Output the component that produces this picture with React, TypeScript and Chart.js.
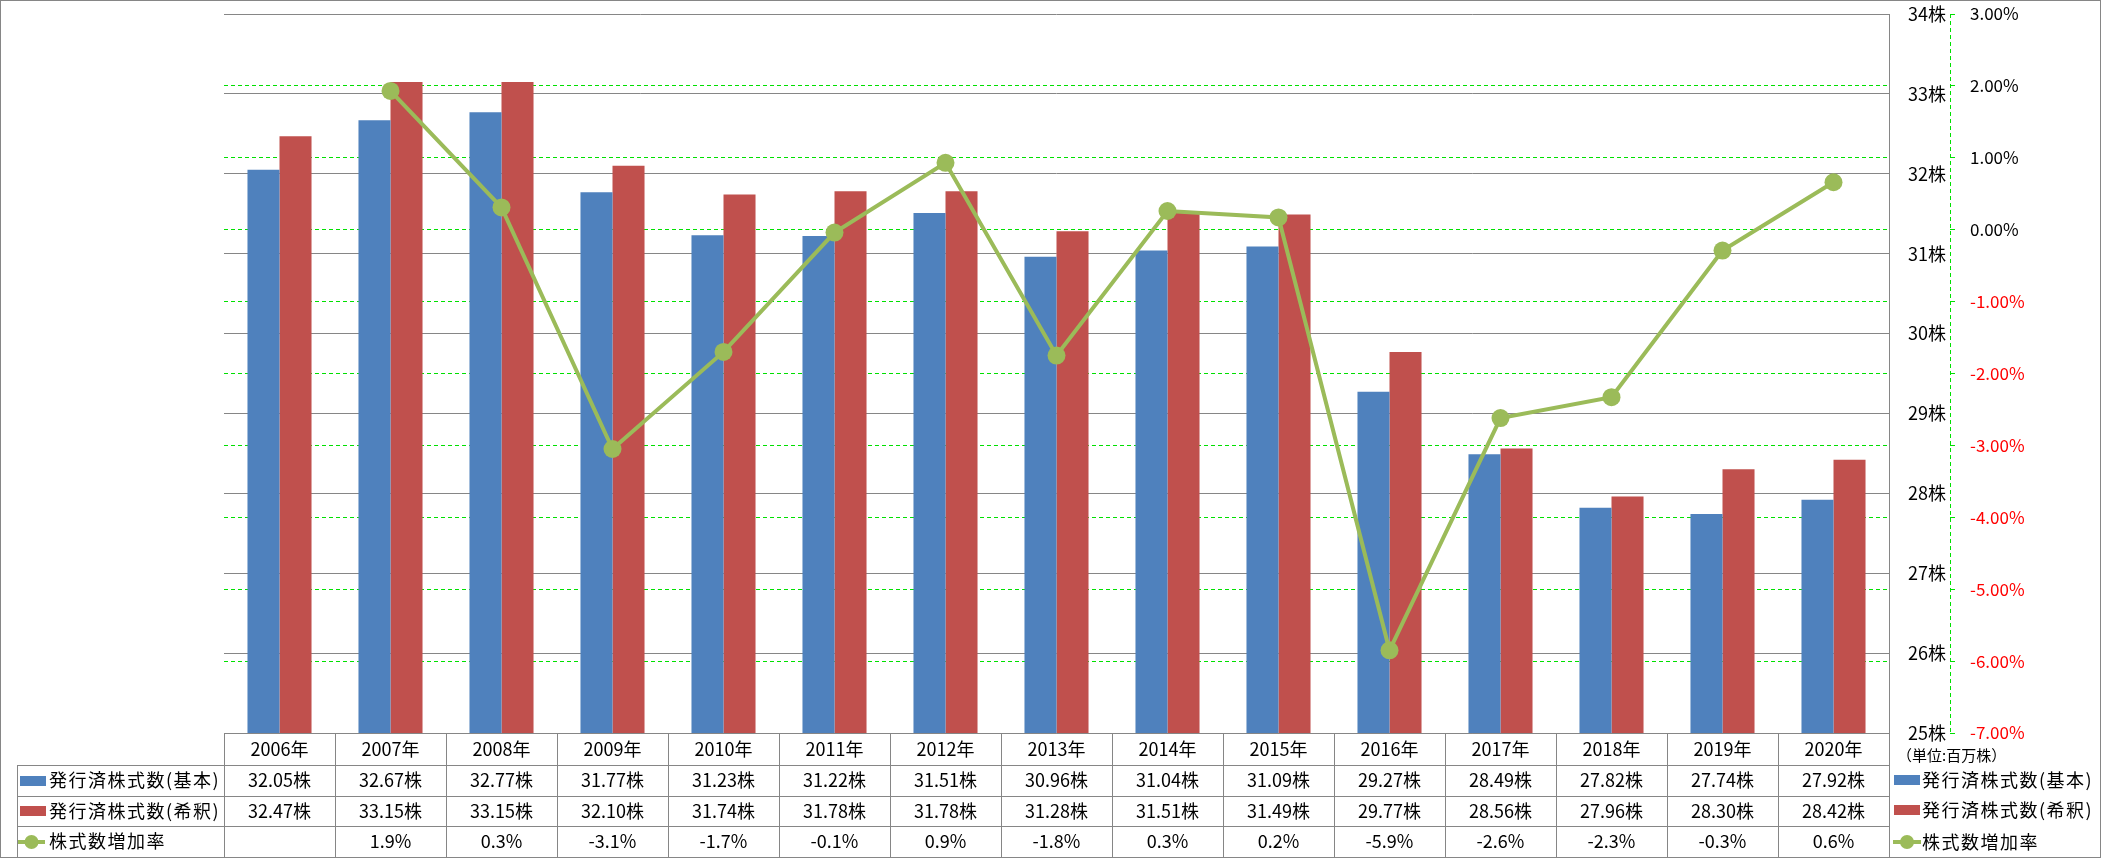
import React, { useEffect, useRef } from 'react';
import { Chart, registerables } from 'chart.js';

Chart.register(...registerables);

const years = ['2006年', '2007年', '2008年', '2009年', '2010年', '2011年', '2012年', '2013年', '2014年', '2015年', '2016年', '2017年', '2018年', '2019年', '2020年'];
const basicShares = [32.05, 32.67, 32.77, 31.77, 31.23, 31.22, 31.51, 30.96, 31.04, 31.09, 29.27, 28.49, 27.82, 27.74, 27.92];
const dilutedShares = [32.47, 33.15, 33.15, 32.10, 31.74, 31.78, 31.78, 31.28, 31.51, 31.49, 29.77, 28.56, 27.96, 28.30, 28.42];
const growthRate: (number | null)[] = [null, 1.93, 0.31, -3.05, -1.70, -0.04, 0.93, -1.75, 0.26, 0.17, -5.85, -2.62, -2.33, -0.29, 0.66];
const growthLabels = ['', '1.9%', '0.3%', '-3.1%', '-1.7%', '-0.1%', '0.9%', '-1.8%', '0.3%', '0.2%', '-5.9%', '-2.6%', '-2.3%', '-0.3%', '0.6%'];
const seriesNames = ['発行済株式数(基本)', '発行済株式数(希釈)', '株式数増加率'];
const unitLabel = '（単位:百万株）';
const shareUnit = '株';

const FONT = '"Noto Sans CJK JP", "Noto Sans", sans-serif';
const BLUE = '#4F81BD';
const RED = '#C0504D';
const GREEN_LINE = '#9BBB59';
const GRID_GREEN = '#00E000';
const GRAY = '#868686';
const W = 2101;
const H = 858;

function drawLineSymbol(ctx: CanvasRenderingContext2D, x1: number, x2: number, y: number) {
  ctx.save();
  ctx.strokeStyle = GREEN_LINE;
  ctx.lineWidth = 4;
  ctx.beginPath();
  ctx.moveTo(x1, y);
  ctx.lineTo(x2, y);
  ctx.stroke();
  ctx.fillStyle = GREEN_LINE;
  ctx.beginPath();
  ctx.arc((x1 + x2) / 2, y, 7, 0, Math.PI * 2);
  ctx.fill();
  ctx.restore();
}

function fillSpaced(ctx: CanvasRenderingContext2D, text: string, x: number, y: number, spacing: string) {
  const c = ctx as any;
  const prev = c.letterSpacing;
  c.letterSpacing = spacing;
  ctx.fillText(text, x, y);
  c.letterSpacing = prev || '0px';
}

const tablePlugin = {
  id: 'dataTable',
  afterDraw(chart: any) {
    const ctx: CanvasRenderingContext2D = chart.ctx;
    const xs = chart.scales.x;
    const y1 = chart.scales.y1;
    const area = chart.chartArea;
    const n = years.length;
    const centers = years.map((_, i) => xs.getPixelForValue(i));
    const half = (centers[1] - centers[0]) / 2;
    const edges = [centers[0] - half, ...centers.map((c) => c + half)];
    const top = Math.round(area.bottom);
    const rows = [top, top + 32, top + 63, top + 93, top + 124];
    const labelLeft = 17;
    const right = Math.round(edges[n]);

    ctx.save();
    // green dashed secondary axis line
    ctx.strokeStyle = GRID_GREEN;
    ctx.lineWidth = 1;
    ctx.setLineDash([4, 3]);
    ctx.beginPath();
    ctx.moveTo(Math.round(y1.left) + 0.5, y1.top);
    ctx.lineTo(Math.round(y1.left) + 0.5, y1.bottom);
    ctx.stroke();
    ctx.setLineDash([]);

    // table lines
    ctx.strokeStyle = GRAY;
    ctx.lineWidth = 1;
    ctx.beginPath();
    ctx.moveTo(Math.round(edges[0]), rows[0] + 0.5);
    ctx.lineTo(right, rows[0] + 0.5);
    for (let r = 1; r < rows.length; r++) {
      ctx.moveTo(labelLeft, rows[r] + 0.5);
      ctx.lineTo(right, rows[r] + 0.5);
    }
    for (let i = 0; i <= n; i++) {
      const x = Math.round(edges[i]) + 0.5;
      ctx.moveTo(x, rows[0]);
      ctx.lineTo(x, rows[4]);
    }
    ctx.moveTo(labelLeft + 0.5, rows[1]);
    ctx.lineTo(labelLeft + 0.5, rows[4]);
    ctx.stroke();

    // texts
    ctx.fillStyle = '#000';
    ctx.font = `18px ${FONT}`;
    ctx.textBaseline = 'middle';
    ctx.textAlign = 'center';
    const mid = (r: number) => (rows[r] + rows[r + 1]) / 2;
    for (let i = 0; i < n; i++) {
      ctx.fillText(years[i], centers[i], mid(0));
      ctx.fillText(basicShares[i].toFixed(2) + shareUnit, centers[i], mid(1));
      ctx.fillText(dilutedShares[i].toFixed(2) + shareUnit, centers[i], mid(2));
      ctx.fillText(growthLabels[i], centers[i], mid(3));
    }

    // row legend keys
    ctx.textAlign = 'left';
    ctx.fillStyle = BLUE;
    ctx.fillRect(20, Math.round(mid(1)) - 5, 26, 10);
    ctx.fillStyle = RED;
    ctx.fillRect(20, Math.round(mid(2)) - 5, 26, 10);
    drawLineSymbol(ctx, 18, 45, Math.round(mid(3)));
    ctx.fillStyle = '#000';
    fillSpaced(ctx, seriesNames[0], 49, mid(1), '1.5px');
    fillSpaced(ctx, seriesNames[1], 49, mid(2), '1.5px');
    fillSpaced(ctx, seriesNames[2], 49, mid(3), '1.5px');

    // right legend
    ctx.font = `15px ${FONT}`;
    ctx.fillText(unitLabel, 1897, 755);
    ctx.font = `18px ${FONT}`;
    ctx.fillStyle = BLUE;
    ctx.fillRect(1894, 775, 26, 10);
    ctx.fillStyle = RED;
    ctx.fillRect(1894, 805, 26, 10);
    drawLineSymbol(ctx, 1893, 1921, 842);
    ctx.fillStyle = '#000';
    fillSpaced(ctx, seriesNames[0], 1922, 780, '1.5px');
    fillSpaced(ctx, seriesNames[1], 1922, 810, '1.5px');
    fillSpaced(ctx, seriesNames[2], 1922, 842, '1.5px');

    // outer border
    ctx.strokeStyle = GRAY;
    ctx.strokeRect(0.5, 0.5, W - 1, H - 1);
    ctx.restore();
  },
};

export default function App() {
  const canvasRef = useRef<HTMLCanvasElement | null>(null);

  useEffect(() => {
    const canvas = canvasRef.current;
    if (!canvas) return;
    const chart = new Chart(canvas, {
      type: 'bar',
      data: {
        labels: years,
        datasets: [
          {
            type: 'line',
            label: seriesNames[2],
            data: growthRate,
            yAxisID: 'y1',
            borderColor: GREEN_LINE,
            backgroundColor: GREEN_LINE,
            borderWidth: 4,
            pointRadius: 9,
            pointBackgroundColor: GREEN_LINE,
            pointBorderWidth: 0,
            tension: 0,
            order: 0,
          } as any,
          {
            label: seriesNames[0],
            data: basicShares,
            yAxisID: 'y',
            backgroundColor: BLUE,
            borderWidth: 0,
            barPercentage: 1,
            categoryPercentage: 0.577,
            order: 1,
          },
          {
            label: seriesNames[1],
            data: dilutedShares,
            yAxisID: 'y',
            backgroundColor: RED,
            borderWidth: 0,
            barPercentage: 1,
            categoryPercentage: 0.577,
            order: 1,
          },
        ],
      },
      options: {
        responsive: false,
        animation: false,
        devicePixelRatio: 1,
        layout: { padding: { left: 224, top: 14, bottom: 125, right: 0 } },
        plugins: { legend: { display: false }, tooltip: { enabled: false } },
        scales: {
          x: { display: false, offset: true, grid: { display: false } },
          y: {
            position: 'right',
            min: 25,
            max: 34,
            ticks: {
              stepSize: 1,
              callback: (v: any) => v + shareUnit,
              color: '#000',
              font: { family: FONT, size: 18 },
              padding: 19,
              crossAlign: 'near',
            },
            grid: { color: GRAY, lineWidth: 1, drawTicks: false },
            border: { display: true, color: GRAY, width: 1 },
            afterFit: (s: any) => {
              s.width = 61;
              s.paddingTop = 0;
              s.paddingBottom = 0;
            },
          },
          y1: {
            position: 'right',
            min: -7,
            max: 3,
            ticks: {
              stepSize: 1,
              callback: (v: any) => Number(v).toFixed(2) + '%',
              color: (c: any) => (c.tick && c.tick.value < 0 ? '#FF0000' : '#000'),
              font: { family: FONT, size: 17 },
              padding: 15,
            },
            grid: {
              color: (c: any) => (c.tick && (c.tick.value === 3 || c.tick.value === -7) ? 'rgba(0,0,0,0)' : GRID_GREEN),
              lineWidth: 1,
              drawTicks: true,
              tickLength: 5,
              tickColor: GRID_GREEN,
            },
            border: { display: false, dash: [4, 3] },
            afterFit: (s: any) => {
              s.width = 151;
              s.paddingTop = 0;
              s.paddingBottom = 0;
            },
          },
        },
      } as any,
      plugins: [tablePlugin],
    });
    return () => chart.destroy();
  }, []);

  return (
    <div style={{ position: 'fixed', left: 0, top: 0, width: W, height: H, background: '#fff' }}>
      <canvas ref={canvasRef} width={W} height={H} style={{ display: 'block' }} />
    </div>
  );
}
